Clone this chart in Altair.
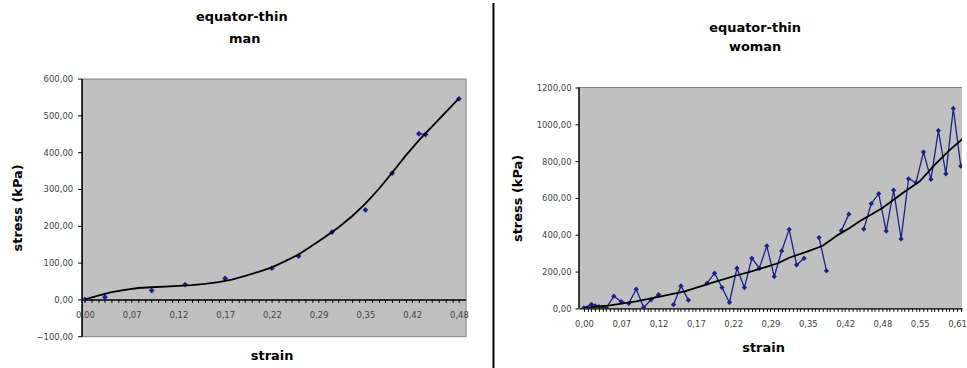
import json
import altair as alt
import pandas as pd

BLUE = "#1f1f8c"
FONT = "DejaVu Sans"
GRAY = "#c0c0c0"

# ---------------- left chart (man) ----------------
man_title = ["equator-thin", "man"]
man_labels = ["0,00", "0,07", "0,12", "0,17", "0,22", "0,29", "0,35", "0,42", "0,48"]
man_n = 57
man_idx = [0, 3, 10, 15, 21, 28, 32, 37, 42, 46, 50, 51, 56]
man_stress = [0, 6, 24, 40, 57, 85, 118, 183, 243, 343, 450, 448, 545]
man_trend_idx = [0, 2, 4, 6, 8, 10, 12, 14, 16, 18, 20, 22, 24, 26, 28, 30, 32, 34, 36, 38,
                 40, 42, 44, 46, 48, 50, 52, 54, 56]
man_trend = [0, 10, 20, 26, 31, 33, 35, 37, 39, 42, 47, 54, 64, 75, 87, 104, 122, 146, 170, 196,
             226, 260, 300, 344, 390, 432, 470, 508, 546]

# ---------------- right chart (woman) ----------------
woman_title = ["equator-thin", "woman"]
woman_labels = ["0,00", "0,07", "0,12", "0,17", "0,22", "0,29", "0,35", "0,42", "0,48", "0,55", "0,61"]
woman_idx = [0, 2, 3, 4, 5, 6, 8, 10, 12, 14, 16, 18, 20, 22, 24, 26, 28, 30,
             33, 35, 37, 39, 41, 43, 45, 47, 49, 51, 53, 55, 57, 59, 61, 63, 65, 67,
             69, 71, 73, 75, 77, 79, 81, 83, 85, 87, 89, 91, 93, 95, 97, 99, 101]
woman_stress = [3, 22, 14, 9, 5, 3, 66, 36, 26, 104, 5, 47, 75, None, 20, 122, 45, None,
                137, 191, 113, 32, 218, 113, 272, 218, 339, 173, 312, 429, 236, 272, None, 385, 204, None,
                422, 512, None, 431, 569, 623, 420, 642, 377, 704, 683, 849, 701, 966, 731, 1086, 773]
woman_trend_idx = [0, 7, 14, 20, 27, 34, 41, 44, 48, 52, 55, 60, 64, 68, 71, 74, 80, 86, 90, 94, 98, 102]
woman_trend = [3, 16, 38, 63, 92, 137, 180, 196, 220, 245, 275, 310, 340, 398, 434, 475, 545, 635,
               690, 780, 860, 930]

# ---------------- data frames ----------------
man_series = pd.Series(dict(zip(man_idx, man_stress))).reindex(range(man_n))
man_df = pd.DataFrame({"i": list(range(man_n)), "v": man_series.values})
man_trend_df = pd.DataFrame({"i": man_trend_idx, "v": man_trend})
woman_df = pd.DataFrame({"i": woman_idx, "v": woman_stress})
woman_trend_df = pd.DataFrame({"i": woman_trend_idx, "v": woman_trend})
one_row = pd.DataFrame({"k": [0]})

num_expr = "replace(format(datum.value, '.2f'), '.', ',')"


def title_text(txt, x, y):
    return alt.Chart(one_row).mark_text(
        text=txt, font=FONT, fontSize=13, fontWeight="bold", color="black",
        align="center", baseline="alphabetic",
    ).encode(x=alt.value(x), y=alt.value(y))


# ---------------- left layout ----------------
LW, LH = 386, 259
l_xscale = alt.Scale(domain=[-0.5, 57.0], nice=False, zero=False)
l_yscale = alt.Scale(domain=[-100, 600], nice=False, zero=False)
l_xaxis = alt.Axis(
    values=list(range(man_n)),
    labelExpr=f"datum.value % 7 === 0 ? {json.dumps(man_labels)}[datum.value / 7] : ''",
    offset=-(LH * 100 / 700), tickSize=3, tickColor="black", domainColor="black", domainWidth=1.5,
    labelPadding=8, labelFont=FONT, labelFontSize=8.5, labelColor="#444", labelOverlap=False,
    labelAngle=0, grid=False, title="strain", titleX=191, titleY=60.5, titleBaseline="alphabetic",
    titleFont=FONT, titleFontSize=13, titleFontWeight="bold", titleColor="black",
)
l_yaxis = alt.Axis(
    values=[-100, 0, 100, 200, 300, 400, 500, 600], labelExpr=num_expr, labelOverlap=False,
    tickSize=4, tickColor="black", domainColor="black", domainWidth=1.5, labelPadding=5,
    labelFont=FONT, labelFontSize=8.5, labelColor="#444", grid=False,
    title="stress (kPa)", titleX=-60.5, titleY=LH / 2, titleBaseline="alphabetic", titleAngle=270,
    titleFont=FONT, titleFontSize=13, titleFontWeight="bold", titleColor="black",
)
lx = alt.X("i:Q", scale=l_xscale, axis=l_xaxis)
ly = alt.Y("v:Q", scale=l_yscale, axis=l_yaxis)

left = alt.layer(
    alt.Chart(man_df).mark_line(color=BLUE, strokeWidth=1.3, invalid="break-paths-show-domains").encode(x=lx, y=ly),
    alt.Chart(man_df).mark_point(shape="diamond", filled=True, size=34, color=BLUE, opacity=1).encode(x=lx, y=ly),
    alt.Chart(man_trend_df).mark_line(color="black", strokeWidth=1.8).encode(x=lx, y=ly),
    alt.Chart(one_row).mark_rule(color="black", strokeWidth=2).encode(
        x=alt.value(414), y=alt.value(-76), y2=alt.value(292)),
    title_text(man_title[0], 161, -58),
    title_text(man_title[1], 164, -36),
).properties(
    width=LW, height=LH,
    view=alt.ViewBackground(fill=GRAY, stroke="#808080", strokeWidth=1),
)

# ---------------- right layout ----------------
# the right plot starts 9px lower than the left one: the view is 9px taller and the
# grey plot area is drawn from 0 to 1200 on the y scale
RW, RH, RTOP = 385, 231, 9
r_ymax = 1200 * RH / (RH - RTOP)
r_xscale = alt.Scale(domain=[-1.33, (RW - 5) / 3.75], nice=False, zero=False)
r_yscale = alt.Scale(domain=[0, r_ymax], nice=False, zero=False)
r_xaxis = alt.Axis(
    values=list(range(0, 102)),
    labelExpr=f"datum.value % 10 === 0 ? {json.dumps(woman_labels)}[datum.value / 10] : ''",
    tickSize=3, tickColor="black", domainColor="black", domainWidth=1.5,
    labelPadding=8, labelFont=FONT, labelFontSize=8.5, labelColor="#444", labelOverlap=False,
    labelBound=True, labelAngle=0, grid=False, title="strain", titleX=185, titleY=43,
    titleBaseline="alphabetic", titleFont=FONT, titleFontSize=13, titleFontWeight="bold",
    titleColor="black",
)
r_yaxis = alt.Axis(
    values=[0, 200, 400, 600, 800, 1000, 1200], labelExpr=num_expr, domain=False,
    labelOverlap=False, tickSize=4, tickColor="black", labelPadding=4,
    labelFont=FONT, labelFontSize=8.5, labelColor="#444", grid=False,
    title="stress (kPa)", titleX=-57.5, titleY=RTOP + (RH - RTOP) / 2, titleBaseline="alphabetic",
    titleAngle=270, titleFont=FONT, titleFontSize=13, titleFontWeight="bold", titleColor="black",
)
rx = alt.X("i:Q", scale=r_xscale, axis=r_xaxis)
ry = alt.Y("v:Q", scale=r_yscale, axis=r_yaxis)


def ry_datum(val):
    return alt.YDatum(val, scale=r_yscale, axis=r_yaxis)


right = alt.layer(
    alt.Chart(one_row).mark_rect(color=GRAY).encode(
        x=alt.value(0), x2=alt.value(RW), y=ry_datum(1200), y2=alt.datum(0)),
    alt.Chart(woman_df).mark_line(color=BLUE, strokeWidth=1.3, clip=True,
                                  invalid="break-paths-show-domains").encode(x=rx, y=ry),
    alt.Chart(woman_df).mark_point(shape="diamond", filled=True, size=28, color=BLUE, opacity=1,
                                   clip=True).encode(x=rx, y=ry),
    alt.Chart(woman_trend_df).mark_line(color="black", strokeWidth=1.8, clip=True).encode(x=rx, y=ry),
    alt.Chart(one_row).mark_rule(color="#808080", strokeWidth=1).encode(
        x=alt.value(0), x2=alt.value(RW), y=ry_datum(1200)),
    alt.Chart(one_row).mark_rule(color="black", strokeWidth=1.5).encode(
        x=alt.value(0), y=ry_datum(1200), y2=alt.datum(0)),
    alt.Chart(one_row).mark_rule(strokeOpacity=0).encode(
        x=alt.value(0), y=alt.value(-76), y2=alt.value(0)),
    title_text(woman_title[0], 177, -46.5),
    title_text(woman_title[1], 177, -28),
).properties(
    width=RW, height=RH,
    view=alt.ViewBackground(fillOpacity=0, strokeOpacity=0),
)

chart = alt.hconcat(left, right, spacing=16, bounds="full").properties(
    padding={"left": 11, "top": 0, "right": 0, "bottom": 0},
    autosize=alt.AutoSizeParams(type="pad"),
    background="white",
)

chart.save("out.html", embed_options={"renderer": "svg", "actions": False})
